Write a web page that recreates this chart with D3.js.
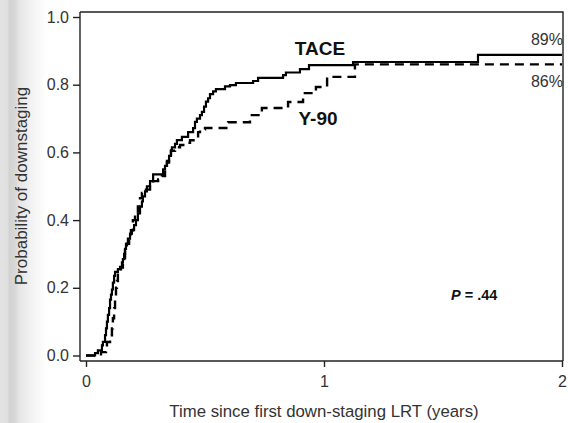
<!DOCTYPE html>
<html>
<head>
<meta charset="utf-8">
<script src="https://cdn.jsdelivr.net/npm/d3@7"></script>
<style>
  html, body { margin: 0; padding: 0; background: #fff; }
  svg { display: block; font-family: "Liberation Sans", Arial, sans-serif; }
</style>
</head>
<body>
<svg id="chart" width="568" height="423"></svg>
<script>
// ---- data ----
const taceTime = [0, 0.038, 0.050, 0.067, 0.071, 0.080, 0.084, 0.088, 0.092, 0.097, 0.101, 0.105, 0.109, 0.113, 0.118, 0.122, 0.134, 0.143, 0.151, 0.155, 0.160, 0.164, 0.168, 0.176, 0.185, 0.193, 0.202, 0.210, 0.218, 0.227, 0.235, 0.239, 0.248, 0.256, 0.269, 0.282, 0.324, 0.332, 0.340, 0.349, 0.357, 0.361, 0.374, 0.382, 0.403, 0.429, 0.450, 0.458, 0.466, 0.479, 0.487, 0.496, 0.504, 0.513, 0.521, 0.534, 0.546, 0.584, 0.605, 0.630, 0.702, 0.723, 0.828, 0.840, 0.899, 0.937, 1.122, 1.647, 2.0];
const taceProb = [0, 0.007, 0.015, 0.030, 0.040, 0.060, 0.080, 0.100, 0.120, 0.140, 0.165, 0.180, 0.195, 0.215, 0.235, 0.247, 0.255, 0.262, 0.275, 0.285, 0.300, 0.315, 0.330, 0.345, 0.360, 0.370, 0.385, 0.400, 0.420, 0.440, 0.455, 0.470, 0.485, 0.500, 0.515, 0.535, 0.550, 0.560, 0.575, 0.590, 0.605, 0.615, 0.625, 0.636, 0.646, 0.660, 0.672, 0.690, 0.700, 0.710, 0.720, 0.735, 0.750, 0.760, 0.772, 0.780, 0.787, 0.795, 0.799, 0.805, 0.811, 0.820, 0.828, 0.836, 0.846, 0.858, 0.867, 0.888, 0.888];

const y90Time = [0, 0.063, 0.084, 0.088, 0.101, 0.109, 0.113, 0.118, 0.122, 0.126, 0.130, 0.134, 0.147, 0.155, 0.164, 0.172, 0.181, 0.189, 0.197, 0.206, 0.218, 0.227, 0.235, 0.252, 0.269, 0.282, 0.303, 0.319, 0.332, 0.340, 0.349, 0.357, 0.374, 0.395, 0.420, 0.437, 0.471, 0.479, 0.500, 0.597, 0.689, 0.739, 0.849, 0.912, 0.966, 1.013, 1.130, 2.0];
const y90Prob = [0, 0.010, 0.020, 0.040, 0.060, 0.080, 0.110, 0.140, 0.170, 0.200, 0.220, 0.245, 0.260, 0.280, 0.310, 0.330, 0.350, 0.370, 0.400, 0.420, 0.440, 0.465, 0.480, 0.490, 0.505, 0.515, 0.520, 0.530, 0.555, 0.570, 0.590, 0.605, 0.615, 0.622, 0.628, 0.636, 0.660, 0.668, 0.672, 0.689, 0.710, 0.731, 0.749, 0.775, 0.793, 0.823, 0.860, 0.860];

const xTicks = [0, 1, 2];
const yTicks = [0, 0.2, 0.4, 0.6, 0.8, 1.0];
const seriesNames = ["TACE", "Y-90"];
const endLabels = ["89%", "86%"];
const pLabel = ".44";

// ---- drawing ----
const svg = d3.select("#chart");

// left grey gradient strip
const defs = svg.append("defs");
const grad = defs.append("linearGradient").attr("id", "leftfade")
  .attr("x1", "0%").attr("x2", "100%").attr("y1", "0%").attr("y2", "0%");
[["0%", "#e2e2e2"], ["15%", "#e0e0e0"], ["20%", "#d2d2d2"], ["32%", "#d8d8d8"], ["40%", "#e5e5e5"], ["60%", "#f0f0f0"], ["85%", "#fafafa"], ["100%", "#ffffff"]]
  .forEach(([o, c]) => grad.append("stop").attr("offset", o).attr("stop-color", c));
svg.append("rect").attr("x", 0).attr("y", 0).attr("width", 48).attr("height", 423).attr("fill", "url(#leftfade)");

const x = d3.scaleLinear().domain([0, 2]).range([86, 562]);
const y = d3.scaleLinear().domain([0, 1]).range([355.5, 17]);

const frame = { left: 80, right: 563, top: 12, bottom: 361 };
const axisColor = "#222";

// frame (top & right)
svg.append("path")
  .attr("d", `M${frame.left},${frame.top}H${frame.right}V${frame.bottom}`)
  .attr("fill", "none").attr("stroke", axisColor).attr("stroke-width", 1.4);

// y axis
const yAxis = d3.axisLeft(y).tickValues(yTicks).tickFormat(d3.format(".1f")).tickSizeOuter(0).tickSize(7).tickPadding(4);
const gy = svg.append("g").attr("transform", `translate(${frame.left},0)`).call(yAxis);
gy.select(".domain").attr("d", `M0,${frame.top}V${frame.bottom}`);

// x axis
const xAxis = d3.axisBottom(x).tickValues(xTicks).tickFormat(d3.format("d")).tickSizeOuter(0).tickSize(6).tickPadding(9);
const gx = svg.append("g").attr("transform", `translate(0,${frame.bottom})`).call(xAxis);
gx.select(".domain").attr("d", `M${frame.left},0H${frame.right}`);

[gx, gy].forEach(g => {
  g.select(".domain").attr("stroke", axisColor).attr("stroke-width", 1.4);
  g.selectAll(".tick line").attr("stroke", axisColor).attr("stroke-width", 1.4);
  g.selectAll(".tick text").attr("fill", "#333").attr("font-size", 16)
    .attr("font-family", "'Liberation Sans', Arial, sans-serif");
});

// axis titles
svg.append("text").attr("x", 324).attr("y", 417).attr("text-anchor", "middle")
  .attr("font-size", 16.8).attr("fill", "#333").text("Time since first down-staging LRT (years)");
svg.append("text").attr("transform", "translate(27,186) rotate(-90)").attr("text-anchor", "middle")
  .attr("font-size", 17).attr("fill", "#333").text("Probability of downstaging");

// curves
const line = d3.line().x(d => x(d[0])).y(d => y(d[1])).curve(d3.curveStepAfter);
const taceData = taceTime.map((t, i) => [t, taceProb[i]]);
const y90Data = y90Time.map((t, i) => [t, y90Prob[i]]);

svg.append("path").datum(y90Data).attr("d", line)
  .attr("fill", "none").attr("stroke", "#000").attr("stroke-width", 2.4)
  .attr("stroke-dasharray", "9,6");
svg.append("path").datum(taceData).attr("d", line)
  .attr("fill", "none").attr("stroke", "#000").attr("stroke-width", 2.2);

// labels
svg.append("text").attr("x", 320).attr("y", 55).attr("text-anchor", "middle")
  .attr("font-size", 19).attr("font-weight", "bold").attr("fill", "#111").text(seriesNames[0]);
svg.append("text").attr("x", 318).attr("y", 125).attr("text-anchor", "middle")
  .attr("font-size", 19).attr("font-weight", "bold").attr("fill", "#111").text(seriesNames[1]);

svg.append("text").attr("x", 563).attr("y", 45).attr("text-anchor", "end")
  .attr("font-size", 16).attr("fill", "#333").text(endLabels[0]);
svg.append("text").attr("x", 563).attr("y", 87).attr("text-anchor", "end")
  .attr("font-size", 16).attr("fill", "#333").text(endLabels[1]);

const pt = svg.append("text").attr("x", 451).attr("y", 300)
  .attr("font-size", 14.5).attr("font-weight", "bold").attr("fill", "#111");
pt.append("tspan").attr("font-style", "italic").text("P");
pt.append("tspan").text(" = " + pLabel);
</script>
</body>
</html>
